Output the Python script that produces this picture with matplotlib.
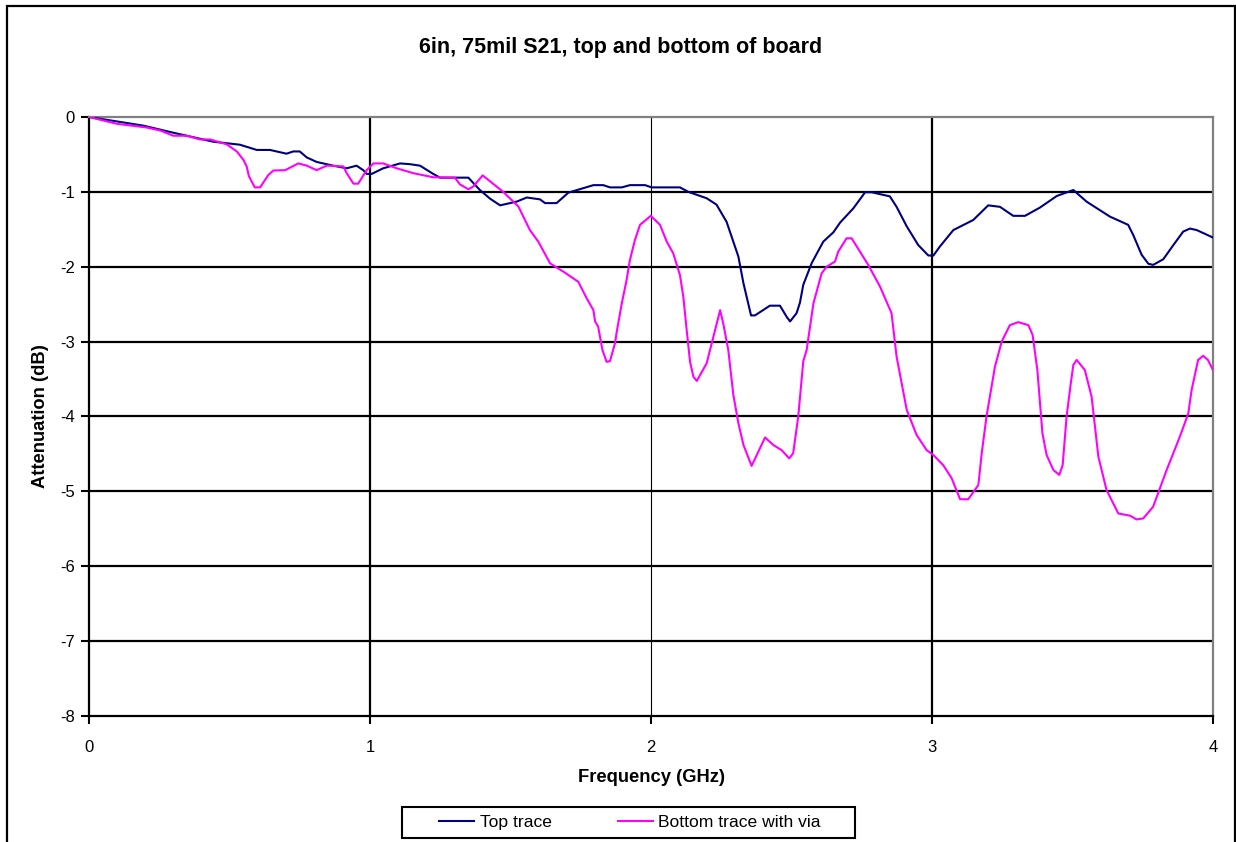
import matplotlib
matplotlib.use("Agg")
import matplotlib.pyplot as plt
from matplotlib.patches import Rectangle

plt.rcParams['font.family'] = ['Liberation Sans', 'DejaVu Sans']
plt.rcParams['axes.unicode_minus'] = False

# S21 of the top trace (GHz, dB)
top_freq = [0, 0.193, 0.30, 0.442, 0.537, 0.597, 0.644, 0.703, 0.727, 0.75, 0.775,
            0.81, 0.869, 0.917, 0.952, 0.976, 0.988, 1.006, 1.047, 1.107, 1.142,
            1.178, 1.225, 1.249, 1.35, 1.391, 1.427, 1.463, 1.522, 1.558, 1.605,
            1.623, 1.664, 1.706, 1.795, 1.83, 1.854, 1.896, 1.925, 1.979, 2.002,
            2.103, 2.133, 2.198, 2.233, 2.269, 2.311, 2.329, 2.356, 2.37, 2.423,
            2.459, 2.483, 2.495, 2.518, 2.53, 2.542, 2.572, 2.613, 2.649, 2.673,
            2.72, 2.762, 2.785, 2.85, 2.874, 2.91, 2.951, 2.987, 3.005, 3.028,
            3.076, 3.147, 3.2, 3.242, 3.289, 3.331, 3.384, 3.444, 3.503, 3.55,
            3.633, 3.698, 3.716, 3.746, 3.77, 3.787, 3.823, 3.859, 3.894, 3.918,
            3.942, 4.0]
top_db = [0, -0.115, -0.21, -0.33, -0.37, -0.44, -0.44, -0.49, -0.46, -0.46, -0.54,
          -0.60, -0.65, -0.685, -0.65, -0.71, -0.76, -0.76, -0.685, -0.62, -0.63,
          -0.65, -0.76, -0.81, -0.81, -0.975, -1.09, -1.18, -1.13, -1.075, -1.10,
          -1.15, -1.15, -1.01, -0.91, -0.91, -0.94, -0.94, -0.91, -0.91, -0.94,
          -0.94, -1.00, -1.085, -1.17, -1.40, -1.865, -2.22, -2.65, -2.65, -2.52,
          -2.52, -2.67, -2.73, -2.62, -2.48, -2.24, -1.95, -1.665, -1.54, -1.41,
          -1.22, -1.005, -1.005, -1.06, -1.20, -1.46, -1.71, -1.85, -1.85, -1.73,
          -1.51, -1.375, -1.18, -1.20, -1.32, -1.32, -1.21, -1.055, -0.975, -1.13,
          -1.33, -1.44, -1.575, -1.84, -1.96, -1.975, -1.90, -1.71, -1.53, -1.49,
          -1.51, -1.61]

# S21 of the bottom trace going through a via
bot_freq = [0, 0.098, 0.205, 0.253, 0.30, 0.348, 0.395, 0.431, 0.49, 0.526, 0.55,
            0.561, 0.569, 0.59, 0.609, 0.638, 0.656, 0.698, 0.745, 0.775, 0.81,
            0.846, 0.905, 0.917, 0.941, 0.958, 0.988, 1.012, 1.047, 1.095, 1.154,
            1.225, 1.302, 1.32, 1.35, 1.367, 1.401, 1.474, 1.528, 1.569, 1.599,
            1.641, 1.688, 1.741, 1.771, 1.795, 1.801, 1.812, 1.827, 1.842, 1.854,
            1.872, 1.878, 1.896, 1.913, 1.925, 1.943, 1.961, 1.999, 2.032, 2.056,
            2.079, 2.103, 2.115, 2.127, 2.139, 2.151, 2.163, 2.198, 2.222, 2.246,
            2.257, 2.275, 2.293, 2.311, 2.329, 2.358, 2.406, 2.435, 2.465, 2.492,
            2.506, 2.524, 2.542, 2.554, 2.578, 2.607, 2.625, 2.655, 2.666, 2.696,
            2.714, 2.773, 2.815, 2.856, 2.874, 2.91, 2.945, 2.981, 3.005, 3.04,
            3.07, 3.1, 3.129, 3.165, 3.177, 3.194, 3.224, 3.248, 3.277, 3.307,
            3.343, 3.358, 3.375, 3.393, 3.408, 3.432, 3.453, 3.465, 3.479, 3.494,
            3.503, 3.515, 3.544, 3.568, 3.592, 3.621, 3.663, 3.705, 3.728, 3.752,
            3.787, 3.835, 3.882, 3.912, 3.924, 3.947, 3.965, 3.982, 4.0]
bot_db = [0, -0.09, -0.14, -0.18, -0.25, -0.25, -0.30, -0.30, -0.365, -0.46, -0.575,
          -0.66, -0.79, -0.94, -0.94, -0.775, -0.715, -0.71, -0.62, -0.65, -0.71,
          -0.65, -0.66, -0.75, -0.89, -0.89, -0.71, -0.62, -0.62, -0.685, -0.75,
          -0.805, -0.81, -0.90, -0.965, -0.93, -0.78, -1.00, -1.195, -1.51, -1.665,
          -1.955, -2.065, -2.20, -2.42, -2.58, -2.73, -2.80, -3.11, -3.27, -3.26,
          -3.02, -2.87, -2.49, -2.18, -1.91, -1.64, -1.44, -1.32, -1.44, -1.665,
          -1.82, -2.11, -2.40, -2.845, -3.27, -3.47, -3.525, -3.29, -2.935, -2.58,
          -2.755, -3.11, -3.71, -4.09, -4.38, -4.66, -4.28, -4.38, -4.45, -4.56,
          -4.49, -4.00, -3.26, -3.11, -2.49, -2.09, -2.00, -1.93, -1.80, -1.62,
          -1.62, -1.975, -2.265, -2.62, -3.20, -3.91, -4.245, -4.45, -4.515, -4.65,
          -4.825, -5.105, -5.105, -4.915, -4.49, -4.00, -3.335, -3.00, -2.78, -2.74,
          -2.78, -2.91, -3.38, -4.225, -4.515, -4.715, -4.78, -4.65, -4.00, -3.555,
          -3.31, -3.245, -3.38, -3.735, -4.535, -4.98, -5.295, -5.325, -5.375, -5.36,
          -5.205, -4.715, -4.27, -3.96, -3.645, -3.245, -3.19, -3.245, -3.38]

x_ticks = [0, 1, 2, 3, 4]
y_ticks = [0, -1, -2, -3, -4, -5, -6, -7, -8]

W, H = 1236, 842
fig = plt.figure(figsize=(W / 100, H / 100), dpi=100)
ax = fig.add_axes([89 / W, 1 - 716 / H, 1124 / W, 599 / H])

# horizontal grid plus the vertical lines at 1, 2 and 3 GHz
for yv in y_ticks[1:-1]:
    ax.axhline(yv, color='black', lw=1.6, zorder=1)
ax.axvline(1, color='black', lw=1.6, zorder=1)
ax.axvline(2, color='black', lw=0.8, zorder=1)
ax.axvline(3, color='black', lw=1.6, zorder=1)

ax.plot(top_freq, top_db, color='#000080', lw=1.5, label='Top trace', zorder=3)
ax.plot(bot_freq, bot_db, color='#FF00FF', lw=1.5, label='Bottom trace with via', zorder=3)

ax.set_xlim(0, 4)
ax.set_ylim(-8, 0)
ax.set_xticks(x_ticks)
ax.set_yticks(y_ticks)
ax.tick_params(direction='out', length=6, width=1.5, labelsize=12, pad=4)
ax.tick_params(axis='x', pad=11)
ax.spines['left'].set_linewidth(1.6)
ax.spines['bottom'].set_linewidth(1.6)
ax.spines['top'].set_color('#808080')
ax.spines['right'].set_color('#808080')
ax.spines['top'].set_linewidth(1.6)
ax.spines['right'].set_linewidth(1.6)

ax.set_xlabel('Frequency (GHz)', fontsize=13.2, fontweight='bold', labelpad=10)
ax.set_ylabel('Attenuation (dB)', fontsize=13.2, fontweight='bold', labelpad=8)
fig.text(621 / W, 1 - 47 / H, '6in, 75mil S21, top and bottom of board',
         ha='center', va='center', fontsize=15.5, fontweight='bold')

leg = fig.legend(loc='center', bbox_to_anchor=(630 / W, 1 - 822 / H), ncol=2,
                 fontsize=12.6, frameon=False, handlelength=2.0,
                 handletextpad=0.3, columnspacing=3.8)
fig.patches.append(Rectangle((402 / W, 1 - 838 / H), 453 / W, 31 / H,
                             transform=fig.transFigure, fill=False,
                             edgecolor='black', lw=1.5))

# outer chart border
fig.patches.append(Rectangle((7 / W, -0.02), 1228 / W, 1.02 - 6 / H,
                             transform=fig.transFigure, fill=False,
                             edgecolor='black', lw=1.6))

plt.savefig('out.png', dpi=100)
